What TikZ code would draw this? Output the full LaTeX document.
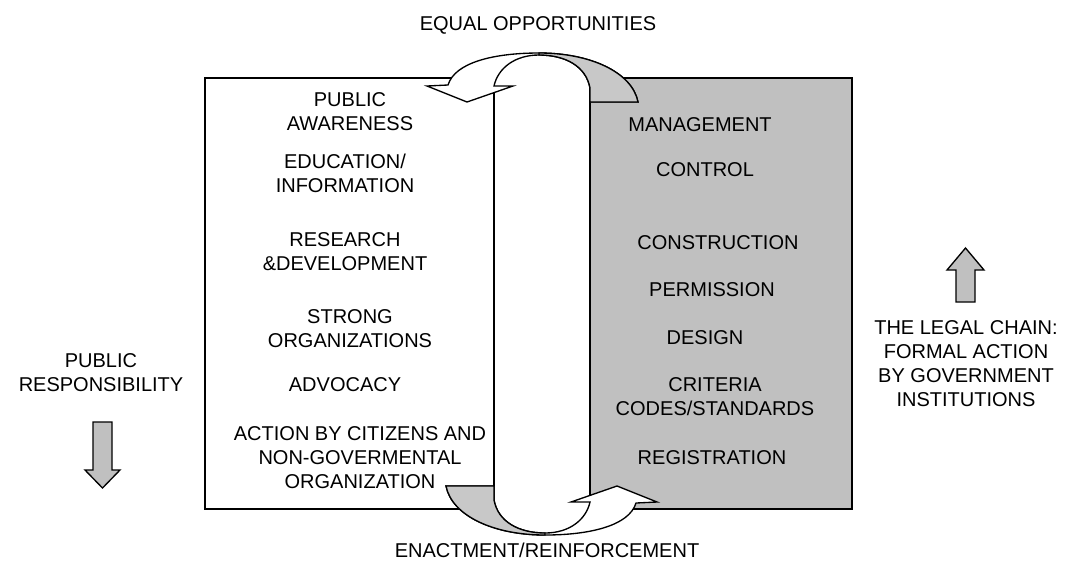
\documentclass[tikz,border=0pt]{standalone}
\usepackage{fontspec}
\setmainfont{Liberation Sans}
\definecolor{boxgray}{RGB}{192,192,192}
\definecolor{footgray}{RGB}{200,200,200}
\tikzset{
  lbl/.style={font=\fontsize{15}{18}\selectfont, align=center, inner sep=0pt},
  outline/.style={draw=black, line width=1pt, line join=miter},
  boxline/.style={draw=black, line width=1.4pt}
}
\begin{document}
\begin{tikzpicture}[x=0.75pt,y=-0.75pt]
\useasboundingbox (0,0) rectangle (1066,562);
% the two boxes
\draw[boxline,fill=white](205,78) rectangle (494,509);
\draw[boxline,fill=boxgray](590,78) rectangle (852,509);
% white column between the boxes
\fill[white](494,86) .. controls (498,68) and (515,55) .. (539,55) .. controls (565,55) and (586,66) .. (590,88)
  -- (590,502) .. controls (586,520) and (569,533) .. (545,533) .. controls (519,533) and (498,522) .. (494,500) -- cycle;
\draw[outline](494,88)--(494,500);
\draw[outline](590,88)--(590,500);
% curved arrows, top one and the same turned round
\foreach \ang in {0,180}{
\begin{scope}[rotate around={\ang:(542,294)}]
\draw[outline,fill=white](467,102)--(427,86)--(448,85)
  .. controls (455,62) and (495,53) .. (539,53)
  .. controls (590,53) and (632,72) .. (638,102)
  --(590,102)--(590,88)
  .. controls (586,66) and (565,55) .. (539,55)
  .. controls (515,55) and (498,68) .. (494,86)
  --(513,86)--cycle;
\draw[outline,fill=footgray](539,53) .. controls (590,53) and (632,72) .. (638,102)
  --(590,102)--(590,88)
  .. controls (586,66) and (565,55) .. (539,55)--cycle;
\end{scope}
}
% small arrows
\draw[outline,fill=boxgray](93,422)--(112,422)--(112,470)--(120,470)--(102.5,488)--(85,470)--(93,470)--cycle;
\draw[outline,fill=boxgray](956,302)--(975,302)--(975,270)--(984,270)--(965.5,248)--(947,270)--(956,270)--cycle;
% left box
\node[lbl](awareness) at (350,112) {PUBLIC\\AWARENESS};
\node[lbl](education) at (345,173) {EDUCATION/\\INFORMATION};
\node[lbl](research) at (345,252) {RESEARCH\\\&DEVELOPMENT};
\node[lbl](strong) at (350,329) {STRONG\\ORGANIZATIONS};
\node[lbl](advocacy) at (345,385) {ADVOCACY};
\node[lbl](citizens) at (360,458) {ACTION BY CITIZENS AND\\NON-GOVERMENTAL\\ORGANIZATION};
% right box
\node[lbl](management) at (700,125) {MANAGEMENT};
\node[lbl](control) at (705,170) {CONTROL};
\node[lbl](construction) at (718,243) {CONSTRUCTION};
\node[lbl](permission) at (712,290) {PERMISSION};
\node[lbl](design) at (705,338) {DESIGN};
\node[lbl](criteria) at (715,397) {CRITERIA\\CODES/STANDARDS};
\node[lbl](registration) at (712,458) {REGISTRATION};
% outside
\node[lbl](equal) at (538,25) {EQUAL OPPORTUNITIES};
\node[lbl](enactment) at (547,550) {ENACTMENT/REINFORCEMENT};
\node[lbl](responsibility) at (101,373) {PUBLIC\\RESPONSIBILITY};
\node[lbl](legal) at (966,364) {THE LEGAL CHAIN:\\FORMAL ACTION\\BY GOVERNMENT\\INSTITUTIONS};
\end{tikzpicture}
\end{document}
